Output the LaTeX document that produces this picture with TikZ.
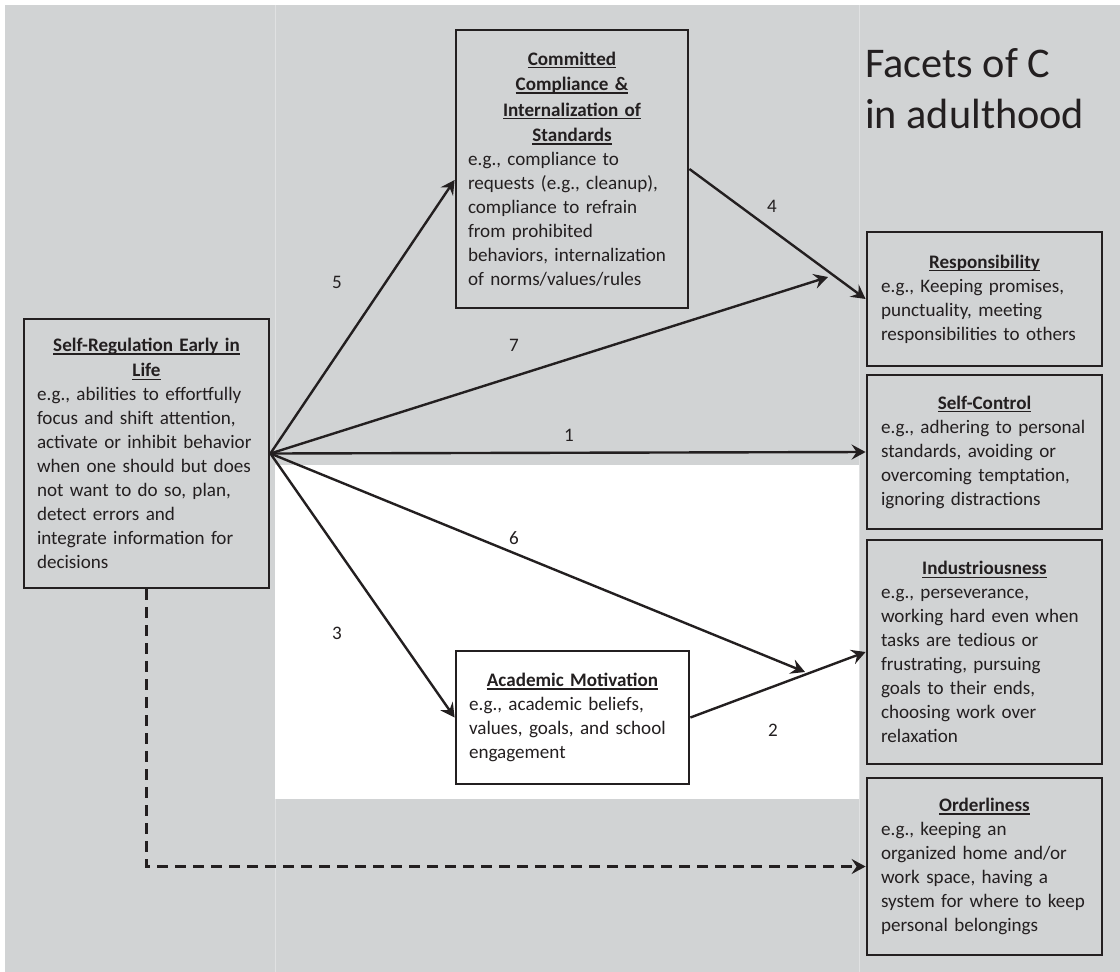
\documentclass[tikz,border=0pt]{standalone}
\usepackage{fontspec}
\setmainfont{Carlito}
\usetikzlibrary{arrows.meta}
\definecolor{panelgray}{RGB}{209,211,212}
\definecolor{sepgray}{RGB}{224,225,226}
\definecolor{ink}{RGB}{35,31,32}
\newsavebox{\ulbox}
\newcommand{\uln}[1]{\leavevmode\sbox{\ulbox}{#1}\rlap{\rule[-3.2pt]{\wd\ulbox}{1.3pt}}\usebox{\ulbox}}
\newcommand{\facethead}[1]{{\centering\bfseries\setlength{\baselineskip}{25.5pt}#1\par}}

\begin{document}
\begin{tikzpicture}[x=1pt, y=-1pt,
  every node/.style={font=\fontsize{19.1}{24}\selectfont, text=ink},
  box/.style={draw=ink, line width=2.8pt, fill=panelgray, inner xsep=13pt, inner ysep=3pt, align=left},
  conn/.style={draw=ink, line width=2.4pt, -{Stealth[length=14pt, width=15pt, inset=5pt]}},
  numlab/.style={inner sep=0pt}]
  % Flaechen im Hintergrund
  \useasboundingbox (0,0) rectangle (1120,972);
  \fill[panelgray] (5,5) rectangle (1120,972);
  \fill[white] (275,465) rectangle (859,799);
  \draw[sepgray, line width=1pt] (275,5) -- (275,465);
  \draw[sepgray, line width=1pt] (275,799) -- (275,972);
  \draw[sepgray, line width=1pt] (859,5) -- (859,972);
  % Ueberschrift rechts
  \node[anchor=north west, inner sep=0pt, align=left, font=\fontsize{42.3}{51}\selectfont] (title) at (865,48) {Facets of C\\in adulthood};
  % Kasten links
  \node[box, text width=219pt, minimum height=269pt] (selfreg) at (146.5,453.5)
    {\facethead{\uln{Self-Regulation Early in}\\\uln{Life}}%
     e.g., abilities to effortfully\\focus and shift attention,\\activate or inhibit behavior\\when one should but does\\not want to do so, plan,\\detect errors and\\integrate information for\\decisions};
  % Kaesten Mitte
  \node[box, inner xsep=12pt, text width=208pt, minimum height=278pt] (commit) at (572,169)
    {\facethead{\uln{Committed}\\\uln{Compliance \&}\\\uln{Internalization of}\\\uln{Standards}}%
     e.g., compliance to\\requests (e.g., cleanup),\\compliance to refrain\\from prohibited\\behaviors, internalization\\of norms/values/rules};
  \node[box, fill=white, text width=207pt, minimum height=133pt] (acad) at (572.5,717.5)
    {\facethead{\uln{Academic Motivation}}%
     e.g., academic beliefs,\\values, goals, and school\\engagement};
  % Facetten rechts
  \node[box, inner xsep=14pt, text width=207pt, minimum height=134pt] (resp) at (984.5,299)
    {\facethead{\uln{Responsibility}}%
     e.g., Keeping promises,\\punctuality, meeting\\responsibilities to others};
  \node[box, inner xsep=14pt, text width=207pt, minimum height=154pt] (selfctl) at (984.5,452)
    {\facethead{\uln{Self-Control}}%
     e.g., adhering to personal\\standards, avoiding or\\overcoming temptation,\\ignoring distractions};
  \node[box, inner xsep=14pt, text width=207pt, minimum height=224pt] (indus) at (984.5,652)
    {\facethead{\uln{Industriousness}}%
     e.g., perseverance,\\working hard even when\\tasks are tedious or\\frustrating, pursuing\\goals to their ends,\\choosing work over\\relaxation};
  \node[box, inner xsep=14pt, text width=207pt, minimum height=177pt] (order) at (984.5,866.5)
    {\facethead{\uln{Orderliness}}%
     e.g., keeping an\\organized home and/or\\work space, having a\\system for where to keep\\personal belongings};
  % freie Pfeilenden
  \coordinate (tip7) at (828,277);
  \coordinate (tip6) at (805,672);
  % Pfeile
  \draw[conn] (selfreg.east) -- ([yshift=-11pt]commit.west);
  \draw[conn] (selfreg.east) -- (tip7);
  \draw[conn] (selfreg.east) -- (selfctl.west);
  \draw[conn] (selfreg.east) -- (tip6);
  \draw[conn] (selfreg.east) -- (acad.west);
  \draw[conn] (commit.east) -- (resp.west);
  \draw[conn] (acad.east) -- (indus.west);
  \draw[conn, dash pattern=on 11pt off 7pt] (selfreg.south) |- (order.west);
  % Pfadnummern
  \node[numlab] (n5) at (337,282) {5};
  \node[numlab] (n7) at (514,345) {7};
  \node[numlab] (n1) at (569,435) {1};
  \node[numlab] (n4) at (772,206) {4};
  \node[numlab] (n6) at (514,538) {6};
  \node[numlab] (n3) at (337,633) {3};
  \node[numlab] (n2) at (773,730) {2};
\end{tikzpicture}
\end{document}
